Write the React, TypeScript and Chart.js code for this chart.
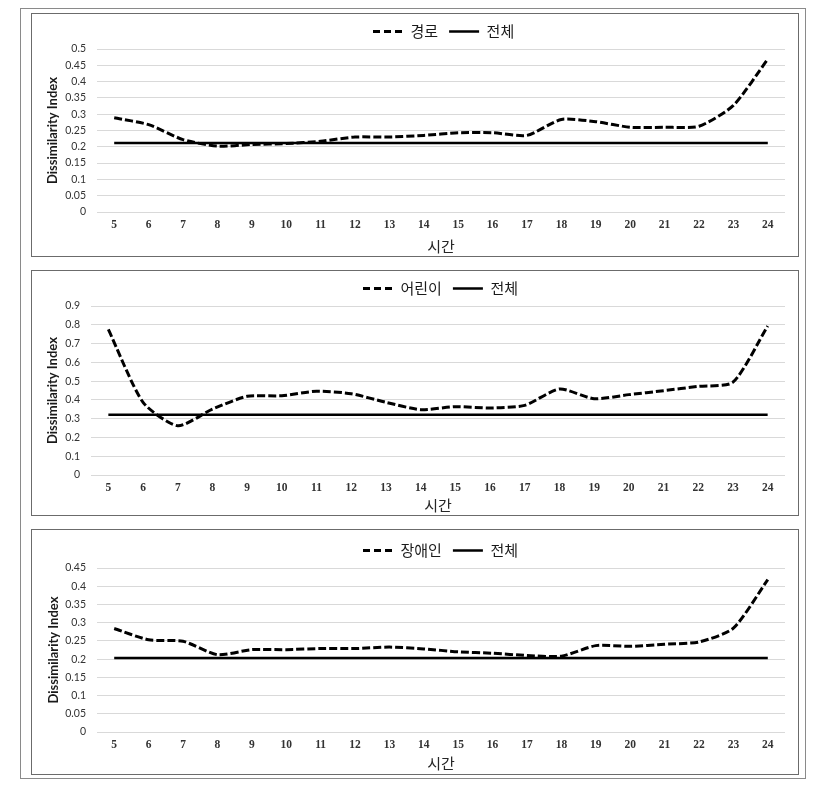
import React, { useEffect, useRef } from "react";
import { Chart, registerables } from "chart.js";

Chart.register(...registerables);

// ---------- data ----------
const HOURS = ["5", "6", "7", "8", "9", "10", "11", "12", "13", "14", "15", "16", "17", "18", "19", "20", "21", "22", "23", "24"];

const ROUTE_LABEL = "경로";
const ROUTE = [0.289, 0.268, 0.222, 0.202, 0.207, 0.21, 0.217, 0.23, 0.23, 0.235, 0.243, 0.243, 0.235, 0.284, 0.277, 0.26, 0.26, 0.263, 0.327, 0.469];
const ROUTE_TOTAL = [0.212, 0.212, 0.212, 0.212, 0.212, 0.212, 0.212, 0.212, 0.212, 0.212, 0.212, 0.212, 0.212, 0.212, 0.212, 0.212, 0.212, 0.212, 0.212, 0.212];

const CHILD_LABEL = "어린이";
const CHILD = [0.775, 0.387, 0.262, 0.351, 0.419, 0.422, 0.446, 0.433, 0.387, 0.348, 0.364, 0.357, 0.371, 0.458, 0.406, 0.428, 0.449, 0.472, 0.494, 0.793];
const CHILD_TOTAL = [0.321, 0.321, 0.321, 0.321, 0.321, 0.321, 0.321, 0.321, 0.321, 0.321, 0.321, 0.321, 0.321, 0.321, 0.321, 0.321, 0.321, 0.321, 0.321, 0.321];

const DISABLED_LABEL = "장애인";
const DISABLED = [0.284, 0.253, 0.249, 0.212, 0.226, 0.226, 0.229, 0.229, 0.233, 0.228, 0.22, 0.216, 0.21, 0.208, 0.237, 0.235, 0.241, 0.247, 0.285, 0.418];
const DISABLED_TOTAL = [0.203, 0.203, 0.203, 0.203, 0.203, 0.203, 0.203, 0.203, 0.203, 0.203, 0.203, 0.203, 0.203, 0.203, 0.203, 0.203, 0.203, 0.203, 0.203, 0.203];

const TOTAL_LABEL = "전체";
const X_TITLE = "시간";
const Y_TITLE = "Dissimilarity Index";

// ---------- layout / style ----------
type PanelProps = {
  label: string;
  series: number[];
  total: number[];
  yMax: number;
  yStep: number;
  top: number;
  height: number;
  yWidth: number;
  xHeight: number;
  padTop: number;
  legendStart: number;
  xTitlePad: number;
  yTitlePad: number;
};

function Panel(p: PanelProps) {
  const ref = useRef<HTMLCanvasElement>(null);
  useEffect(() => {
    const legendPad = 11;
    const legendMove = {
      id: "legendMove",
      afterLayout(chart: any) {
        const lg = chart.legend;
        if (lg) {
          const w = lg.width;
          lg.left = p.legendStart - legendPad;
          lg.right = lg.left + w;
        }
      },
    };
    const chart = new Chart(ref.current as HTMLCanvasElement, {
      type: "line",
      data: {
        labels: HOURS,
        datasets: [
          {
            label: p.label,
            data: p.series,
            borderColor: "#000",
            backgroundColor: "#000",
            borderWidth: 3,
            borderDash: [8, 3],
            pointRadius: 0,
            tension: 0.22,
            fill: false,
          },
          {
            label: TOTAL_LABEL,
            data: p.total,
            borderColor: "#000",
            backgroundColor: "#000",
            borderWidth: 2.5,
            pointRadius: 0,
            tension: 0,
            fill: false,
          },
        ],
      },
      options: {
        responsive: false,
        animation: false,
        layout: { padding: { top: p.padTop, right: 14, bottom: 0, left: 0 } },
        plugins: {
          legend: {
            position: "top",
            align: "start",
            labels: {
              usePointStyle: true,
              pointStyle: "line",
              pointStyleWidth: 30,
              padding: legendPad,
              color: "#1a1a1a",
              font: { family: "'Noto Sans CJK KR', 'Noto Sans'", size: 15 },
              generateLabels: (c: any) => {
                const items = (Chart.defaults as any).plugins.legend.labels.generateLabels(c);
                items.forEach((it: any) => {
                  const ds = c.data.datasets[it.datasetIndex];
                  it.lineDash = ds.borderDash ? [7, 4] : [];
                  it.lineWidth = ds.borderWidth;
                  it.strokeStyle = ds.borderColor;
                  it.pointStyle = "line";
                });
                return items;
              },
            },
          },
          tooltip: { enabled: false },
        },
        scales: {
          x: {
            offset: true,
            grid: { display: false, drawTicks: false },
            border: { display: false },
            ticks: {
              padding: 6,
              autoSkip: false,
              maxRotation: 0,
              color: "#333",
              font: { family: "'Liberation Serif', serif", size: 11.5, weight: "bold" },
            },
            title: {
              display: true,
              text: X_TITLE,
              color: "#262626",
              padding: { top: 0, bottom: p.xTitlePad },
              font: { family: "'Noto Sans CJK KR', 'Noto Sans'", size: 15 },
            },
            afterFit: (s: any) => {
              s.height = p.xHeight;
            },
          },
          y: {
            min: 0,
            max: p.yMax,
            grid: { color: "#d9d9d9", drawTicks: false, lineWidth: 1 },
            border: { display: false },
            ticks: {
              stepSize: p.yStep,
              padding: 11,
              color: "#333",
              font: { family: "Lato, 'Liberation Sans'", size: 10.5 },
              callback: (v: any) => String(Number(Number(v).toFixed(2))),
            },
            title: {
              display: true,
              text: Y_TITLE,
              color: "#1a1a1a",
              padding: { top: p.yTitlePad, bottom: 0 },
              font: { family: "Lato, 'Liberation Sans'", size: 13, weight: "bold" },
            },
            afterFit: (s: any) => {
              s.width = p.yWidth;
            },
          },
        },
      },
      plugins: [legendMove],
    } as any);
    return () => chart.destroy();
  }, []);

  return (
    <>
      <div
        style={{
          position: "absolute",
          left: 31,
          top: p.top,
          width: 768,
          height: p.height,
          boxSizing: "border-box",
          border: "1px solid #6b6b6b",
        }}
      />
      <canvas
        ref={ref}
        width={768}
        height={p.height}
        style={{ position: "absolute", left: 31, top: p.top, width: 768, height: p.height }}
      />
    </>
  );
}

export default function App() {
  return (
    <div
      style={{
        position: "absolute",
        left: 0,
        top: 0,
        width: 826,
        height: 785,
        background: "#fff",
        overflow: "hidden",
      }}
    >
      <div
        style={{
          position: "absolute",
          left: 20,
          top: 8,
          width: 786,
          height: 771,
          boxSizing: "border-box",
          border: "1px solid #8a8a8a",
        }}
      />
      <Panel
        label={ROUTE_LABEL}
        series={ROUTE}
        total={ROUTE_TOTAL}
        yMax={0.5}
        yStep={0.05}
        top={13}
        height={244}
        yWidth={66}
        xHeight={45}
        padTop={0}
        legendStart={373 - 31}
        xTitlePad={2}
        yTitlePad={14}
      />
      <Panel
        label={CHILD_LABEL}
        series={CHILD}
        total={CHILD_TOTAL}
        yMax={0.9}
        yStep={0.1}
        top={270}
        height={246}
        yWidth={60}
        xHeight={41}
        padTop={0}
        legendStart={363 - 31}
        xTitlePad={2}
        yTitlePad={14}
      />
      <Panel
        label={DISABLED_LABEL}
        series={DISABLED}
        total={DISABLED_TOTAL}
        yMax={0.45}
        yStep={0.05}
        top={529}
        height={246}
        yWidth={66}
        xHeight={43}
        padTop={3}
        legendStart={363 - 31}
        xTitlePad={3}
        yTitlePad={15}
      />
    </div>
  );
}
